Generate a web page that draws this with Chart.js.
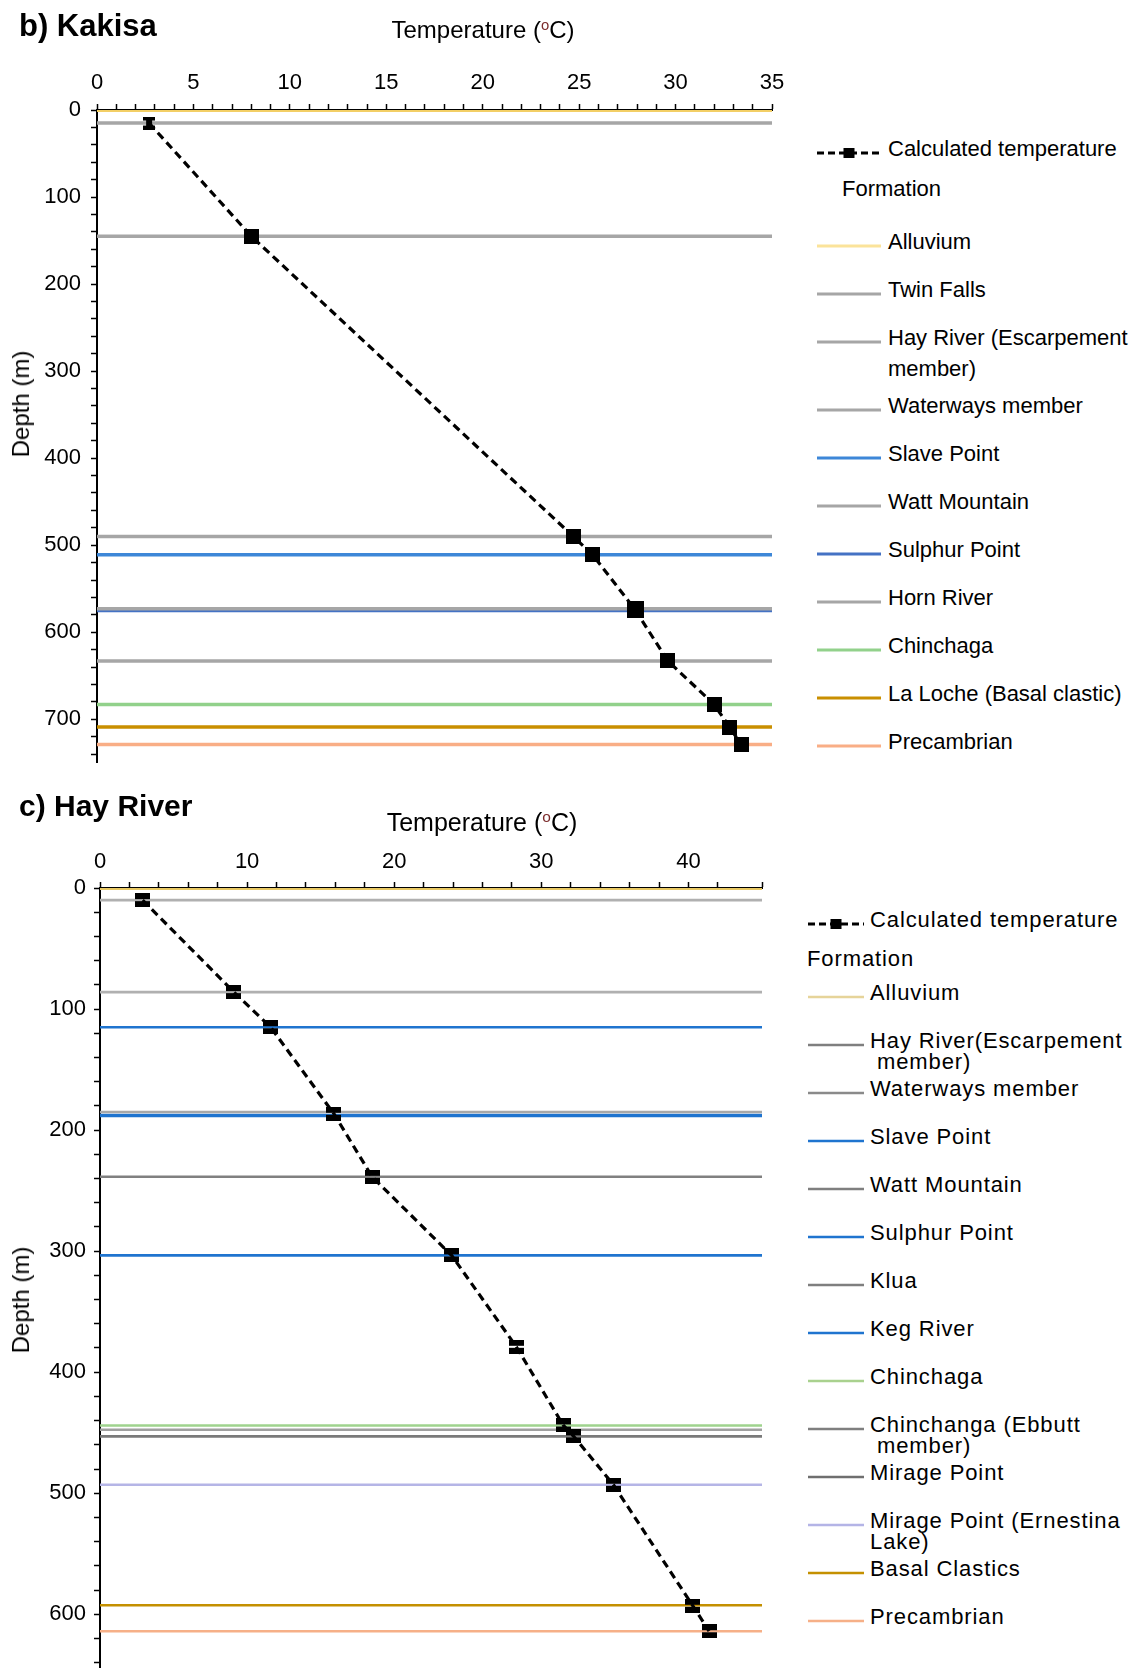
<!DOCTYPE html>
<html>
<head>
<meta charset="utf-8">
<script src="https://cdn.jsdelivr.net/npm/chart.js@4/dist/chart.umd.min.js"></script>
<style>
  html,body{margin:0;padding:0;background:#fff;overflow:hidden;}
  body{width:1137px;height:1668px;position:relative;font-family:"Liberation Sans",Arial,sans-serif;color:#000;}
  canvas{position:absolute;left:0;}
  .txt{position:absolute;white-space:nowrap;line-height:1;}
  .ptitle{font-weight:bold;font-size:30px;transform:translateY(-50%);}
  .atitle{transform:translate(-50%,-50%);}
  .atitle sup{font-size:0.62em;color:#7b2b2b;vertical-align:0.55em;}
  .ytitle{font-size:24px;transform:translate(-50%,-50%) rotate(-90deg);}
  .leg{position:absolute;font-size:22px;}
  .leg .sw{position:absolute;}
  .leg .lab{position:absolute;white-space:pre;transform:translateY(-50%);}
</style>
</head>
<body>
<canvas id="kakisa"></canvas>
<canvas id="hay"></canvas>
<div id="overlay"></div>
<script>
// ---- Kakisa data
const kakisaTemp  = [2.7, 8.0, 24.7, 25.7, 27.9, 29.6, 32.0, 32.8, 33.4];
const kakisaDepth = [15, 145, 490, 511, 574, 633, 683, 709, 729];
const kakisaFormations = ['Alluvium','Twin Falls','Hay River (Escarpement\nmember)','Waterways member','Slave Point','Watt Mountain','Sulphur Point','Horn River','Chinchaga','La Loche (Basal clastic)','Precambrian'];
const kakisaFormationDepth = [0, 15, 145, 490, 511, 573, 575, 633, 683, 709, 729];
const kakisaColors = ['#f3cf66','#a6a6a6','#a6a6a6','#a6a6a6','#3d87d8','#a6a6a6','#4472c4','#a6a6a6','#92d18b','#c98f00','#f9ae86'];
const kakisaTicks = {max:35, step:1, major:5, depthMax:750};

// ---- Hay River data
const hayTemp  = [2.9, 9.1, 11.6, 15.9, 18.5, 23.9, 28.3, 31.5, 32.2, 34.9, 40.3, 41.4];
const hayDepth = [10, 86, 115, 186.5, 238.6, 303.5, 379, 444, 453, 493, 593, 614];
const hayFormations = ['Alluvium','Hay River(Escarpement\n member)','Waterways member','Slave Point','Watt Mountain','Sulphur Point','Klua','Keg River','Chinchaga','Chinchanga (Ebbutt\n member)','Mirage Point','Mirage Point (Ernestina\nLake)','Basal Clastics','Precambrian'];
const hayFormationDepth = [0, 10, 86, 115, 185, 188, 238.6, 303.5, 444, 447.5, 453, 493, 592.5, 614];
const hayColors = ['#e9c964','#b0b0b0','#b0b0b0','#1f74cf','#a8a8a8','#1f74cf','#808080','#1f74cf','#9fd38e','#a0a0a0','#7a7a7a','#b5b5e6','#c49000','#f6b088'];
const hayLegendColors = ['#e6d49a','#7f7f7f','#8a8a8a','#1f74cf','#7f7f7f','#1f74cf','#7f7f7f','#1f74cf','#a9d18e','#7f7f7f','#6f6f6f','#b4b4e6','#c49000','#f6b088'];
const hayTicks = {max:45, step:2, major:10, depthMax:650};

const FONT = '"Liberation Sans", Arial, sans-serif';

function markerSquare(size){
  const c=document.createElement('canvas'); c.width=size; c.height=size;
  const g=c.getContext('2d'); g.fillStyle='#000'; g.fillRect(0,0,size,size); return c;
}
function markerIBeam(){
  const c=document.createElement('canvas'); c.width=12; c.height=13;
  const g=c.getContext('2d'); g.fillStyle='#000';
  g.fillRect(0,0,12,4); g.fillRect(0,9,12,4); g.fillRect(3,3,6,7); return c;
}
function markerSplit(){
  const c=document.createElement('canvas'); c.width=15; c.height=14;
  const g=c.getContext('2d'); g.fillStyle='#000';
  g.fillRect(0,0,15,6); g.fillRect(0,8,15,6); return c;
}

function buildChart(id, o){
  const canvas=document.getElementById(id);
  canvas.width=o.w; canvas.height=o.h;
  canvas.style.top=o.top+'px'; canvas.style.width=o.w+'px'; canvas.style.height=o.h+'px';
  const datasets=[{
    label:'Calculated temperature',
    data:o.temp.map((t,i)=>({x:t,y:o.depth[i]})),
    borderColor:'#000', borderWidth:3.2, borderDash:[8,5],
    pointStyle:o.markers, pointRadius:7, backgroundColor:'#000', showLine:true, order:0
  }];
  o.forms.forEach((f,i)=>{
    datasets.push({
      label:f.replace('\n',' '),
      data:[{x:0,y:o.fdepth[i]},{x:o.ticks.max,y:o.fdepth[i]}],
      borderColor:o.colors[i], borderWidth:i===0?4:o.lw[i], pointRadius:0, showLine:true, order:1
    });
  });
  return new Chart(canvas,{
    type:'scatter',
    data:{datasets},
    options:{
      responsive:false, animation:false, devicePixelRatio:1,
      layout:{padding:{left:0,top:0,right:o.w-o.right,bottom:o.padBottom}},
      plugins:{legend:{display:false},tooltip:{enabled:false}},
      scales:{
        x:{type:'linear',position:'top',min:0,max:o.ticks.max,z:1,
          afterFit:s=>{s.height=o.axisTop;},
          ticks:{stepSize:o.ticks.step,autoSkip:false,maxRotation:0,padding:o.xpad,color:'#000',
            font:{family:FONT,size:22},callback:v=>v%o.ticks.major===0?v:''},
          grid:{drawOnChartArea:false,drawTicks:true,tickLength:6,tickColor:'#000',tickWidth:1.5},
          border:{color:'#000',width:2}},
        y:{type:'linear',reverse:true,min:0,max:o.ticks.depthMax,z:1,
          afterFit:s=>{s.width=o.left;},
          ticks:{stepSize:20,autoSkip:false,includeBounds:false,padding:o.ypad,color:'#000',
            font:{family:FONT,size:22},callback:v=>v%100===0?v:''},
          grid:{drawOnChartArea:false,drawTicks:true,tickLength:6,tickColor:'#000',tickWidth:1.5},
          border:{color:'#000',width:2}}
      }
    }
  });
}

const kakisaMarkers=kakisaTemp.map((t,i)=>i===0?markerIBeam():markerSquare(i===4?17:15));
buildChart('kakisa',{w:795,h:786,top:0,right:772,left:97,axisTop:110,padBottom:16,xpad:8,ypad:10,
  temp:kakisaTemp,depth:kakisaDepth,forms:kakisaFormations,fdepth:kakisaFormationDepth,colors:kakisaColors,
  lw:kakisaColors.map(()=>3.5),markers:kakisaMarkers,ticks:kakisaTicks});

const hayMarkers=hayTemp.map(()=>markerSplit());
buildChart('hay',{w:790,h:916,top:780,right:762,left:100,axisTop:108,padBottom:16,xpad:7,ypad:8,
  temp:hayTemp,depth:hayDepth,forms:hayFormations,fdepth:hayFormationDepth,colors:hayColors,
  lw:hayColors.map((c,i)=>i===5?3.5:2.6),markers:hayMarkers,ticks:hayTicks});

// ---- text overlays and legends
const ov=document.getElementById('overlay');
function addText(html,cls,x,y,style){
  const d=document.createElement('div'); d.className='txt '+cls; d.innerHTML=html;
  d.style.left=x+'px'; d.style.top=y+'px'; if(style) Object.assign(d.style,style); ov.appendChild(d); return d;
}
addText('b) Kakisa','ptitle',19,25,{fontSize:'31px'});
addText('Temperature (<sup>o</sup>C)','atitle',483,30,{fontSize:'24px'});
addText('Depth (m)','ytitle',21,404);
addText('c) Hay River','ptitle',19,806);
addText('Temperature (<sup>o</sup>C)','atitle',482,822,{fontSize:'25px'});
addText('Depth (m)','ytitle',21,1300);

function svgLine(w,color,lw,dashed,sq){
  let s=`<svg width="${w}" height="16" xmlns="http://www.w3.org/2000/svg">`;
  s+=`<line x1="0" y1="8" x2="${w}" y2="8" stroke="${color}" stroke-width="${lw}" ${dashed?'stroke-dasharray="7,4"':''}/>`;
  if(sq) s+=`<rect x="${w/2-sq[0]/2}" y="${8-sq[1]/2}" width="${sq[0]}" height="${sq[1]}" fill="#000"/>`;
  return s+'</svg>';
}
function legend(o){
  const box=document.createElement('div'); box.className='leg'; box.style.left='0'; box.style.top='0';
  box.style.letterSpacing=o.ls+'px'; ov.appendChild(box);
  const add=(html,cls,x,y)=>{const d=document.createElement('div');d.className=cls;d.innerHTML=html;d.style.left=x+'px';d.style.top=y+'px';box.appendChild(d);return d;};
  add(svgLine(o.swW,'#000',3,true,[11,10]),'sw',o.swX,o.calcY-8);
  add('Calculated temperature','lab',o.textX,o.calcY);
  add('Formation','lab',o.formX,o.formY);
  let y=o.startY;
  o.names.forEach((n,i)=>{
    add(svgLine(o.swW,o.colors[i],o.swLW,false,null),'sw',o.swX,y-8);
    const parts=n.split('\n');
    add(parts[0],'lab',o.textX,y);
    if(parts[1]) add(parts[1],'lab',o.textX,y+o.wrapLH);
    y+=o.step+(parts[1]?o.wrapExtra:0);
  });
}
legend({names:kakisaFormations,colors:kakisaColors.map((c,i)=>i===0?'#fbe39a':c),swX:817,swW:64,swLW:3,textX:888,
  calcY:149,formX:842,formY:189,startY:242,step:48,wrapLH:31,wrapExtra:20,ls:0});
legend({names:hayFormations,colors:hayLegendColors,swX:808,swW:56,swLW:2.5,textX:870,
  calcY:920,formX:807,formY:959,startY:993,step:48,wrapLH:21,wrapExtra:0,ls:0.9});
</script>
</body>
</html>
